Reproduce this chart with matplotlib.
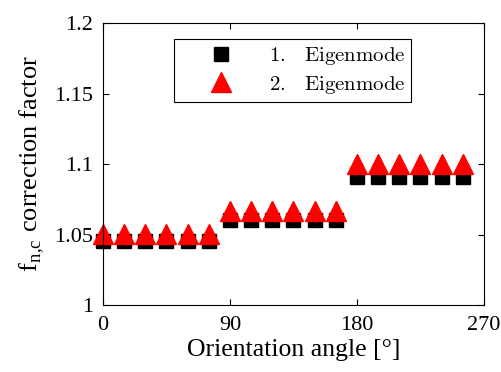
import matplotlib
matplotlib.use("Agg")
import matplotlib.pyplot as plt

# orientation angles and correction factors
angle = [0, 15, 30, 45, 60, 75, 90, 105, 120, 135, 150, 165,
         180, 195, 210, 225, 240, 255]
mode1 = [1.0455] * 6 + [1.0600] * 6 + [1.0910] * 6
mode2 = [1.0505] * 6 + [1.0665] * 6 + [1.1000] * 6

plt.rcParams['font.family'] = ['Liberation Serif', 'DejaVu Serif']
plt.rcParams['mathtext.fontset'] = 'cm'

fig = plt.figure(figsize=(5.02, 3.72), dpi=100)
ax = fig.add_axes([0.205, 0.180, 0.759, 0.758])

ax.plot(angle, mode1, 's', color='black', markersize=9.5, clip_on=False,
        label=r'$\mathrm{1.\ \ \, Eigenmode}$')
ax.plot(angle, mode2, '^', color='red', markersize=14, clip_on=False,
        label=r'$\mathrm{2.\ \ \, Eigenmode}$')

ax.set_xlim(0, 270)
ax.set_ylim(1, 1.2)
ax.set_xticks([0, 90, 180, 270])
ax.set_yticks([1, 1.05, 1.1, 1.15, 1.2])
ax.set_yticklabels(['1', '1.05', '1.1', '1.15', '1.2'])
ax.tick_params(direction='in', top=True, right=True, labelsize=16,
               length=4, width=0.8)
ax.tick_params(axis='x', pad=8)
ax.tick_params(axis='y', pad=7)
for s in ax.spines.values():
    s.set_linewidth(0.8)

ax.set_xlabel('Orientation angle [°]', fontsize=18.5, labelpad=3)
ax.set_ylabel(r'f$_{\mathregular{n{,}c}}$ correction factor', fontsize=19,
              labelpad=5)

leg = ax.legend(loc='upper left', bbox_to_anchor=(0.186, 0.943),
                borderaxespad=0, fontsize=15, fancybox=False,
                edgecolor='black', framealpha=1, handlelength=3.9,
                handletextpad=0.35, borderpad=0.3, labelspacing=0.3)
leg.get_frame().set_linewidth(0.8)

fig.savefig('out.png', dpi=100)
